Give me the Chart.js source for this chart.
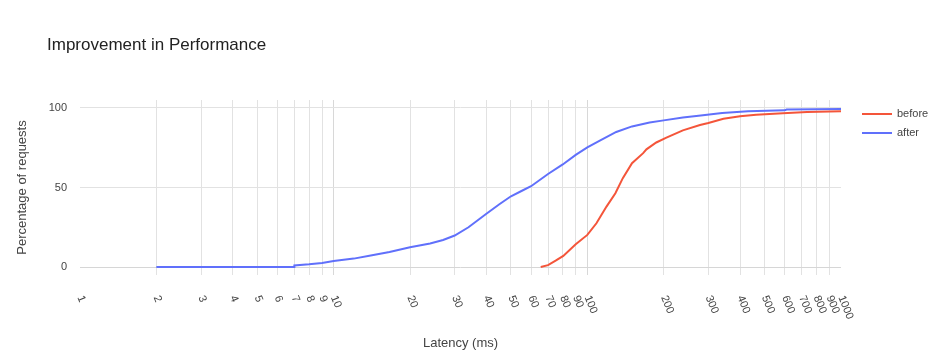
<!DOCTYPE html>
<html><head><meta charset="utf-8">
<script src="https://cdn.jsdelivr.net/npm/chart.js@4/dist/chart.umd.min.js"></script>
<style>html,body{margin:0;padding:0;background:#fff}#wrap{width:946px;height:360px;position:relative}</style>
</head><body><div id="wrap"><canvas id="c"></canvas></div>
<script>
const chartTitle = 'Improvement in Performance';
const xTitle = 'Latency (ms)';
const yTitle = 'Percentage of requests';
const seriesNames = ['before', 'after'];
const seriesColors = ['#f4553a', '#6070fb'];

const beforeLatency = [65.5, 70, 75, 80.4, 90, 100, 108.6, 119, 129, 138, 150, 166, 171, 187, 205, 238, 278, 300, 344, 400, 463, 590, 735, 1000];
const beforePct     = [0,    1.2, 4, 7,    14.3, 20.2, 27.5, 38, 46.4, 55.9, 65.3, 71.6, 74, 78.3, 81.3, 85.9, 89.3, 90.5, 93.2, 94.8, 95.8, 96.6, 97.5, 98.0];

const afterLatency = [2, 7, 7, 8, 9, 10, 12, 14, 16.6, 20, 24, 27, 30, 34, 40, 45, 50, 55, 60, 70, 80, 90, 100, 112, 130, 150, 176, 200, 238, 280, 340, 430, 600, 610, 1000];
const afterPct     = [0, 0, 1.0, 1.7, 2.5, 3.8, 5.3, 7.2, 9.4, 12.5, 14.8, 17, 19.8, 25, 33.5, 39.5, 44.5, 47.8, 50.8, 58.5, 64.5, 70.5, 75.2, 79.4, 84.9, 88.4, 90.8, 92.2, 94.0, 95.3, 96.9, 97.9, 98.5, 99.0, 99.3];

const xTickValues = [1, 2, 3, 4, 5, 6, 7, 8, 9, 10, 20, 30, 40, 50, 60, 70, 80, 90, 100, 200, 300, 400, 500, 600, 700, 800, 900, 1000];
const xTickLabels = ['1', '2', '3', '4', '5', '6', '7', '8', '9', '10', '20', '30', '40', '50', '60', '70', '80', '90', '100', '200', '300', '400', '500', '600', '700', '800', '900', '1000'];
const yTickValues = [0, 50, 100];

const FONT = '"Liberation Sans", Arial, Helvetica, sans-serif';

function toPoints(xs, ys) { return xs.map((x, i) => ({ x: x, y: ys[i] })); }

const decor = {
  id: 'decor',
  afterDraw(chart) {
    const ctx = chart.ctx;
    const xs = chart.scales.x;
    ctx.save();
    ctx.fillStyle = '#222';
    ctx.font = '17px ' + FONT;
    ctx.textAlign = 'left';
    ctx.textBaseline = 'middle';
    ctx.fillText(chartTitle, 47, 45);

    ctx.font = '11px ' + FONT;
    ctx.fillStyle = '#444';
    xTickValues.forEach((v, i) => {
      const px = xs.getPixelForValue(v);
      ctx.save();
      ctx.translate(px, 296);
      ctx.rotate(68 * Math.PI / 180);
      ctx.textAlign = 'left';
      ctx.textBaseline = 'middle';
      ctx.fillText(xTickLabels[i], 0, 0);
      ctx.restore();
    });

    chart.data.datasets.forEach((ds, i) => {
      const y = 114 + i * 19;
      ctx.strokeStyle = ds.borderColor;
      ctx.lineWidth = 2;
      ctx.beginPath();
      ctx.moveTo(862, y);
      ctx.lineTo(892, y);
      ctx.stroke();
      ctx.fillStyle = '#444';
      ctx.font = '11px ' + FONT;
      ctx.textAlign = 'left';
      ctx.textBaseline = 'middle';
      ctx.fillText(ds.label, 897, y);
    });
    ctx.restore();
  }
};

new Chart(document.getElementById('c'), {
  type: 'line',
  data: {
    datasets: [
      { label: seriesNames[0], data: toPoints(beforeLatency, beforePct), borderColor: seriesColors[0], backgroundColor: seriesColors[0], borderWidth: 2, pointRadius: 0, tension: 0, fill: false },
      { label: seriesNames[1], data: toPoints(afterLatency, afterPct), borderColor: seriesColors[1], backgroundColor: seriesColors[1], borderWidth: 2, pointRadius: 0, tension: 0, fill: false }
    ]
  },
  options: {
    responsive: true,
    maintainAspectRatio: false,
    animation: false,
    layout: { padding: { top: 100, right: 105, bottom: 0, left: 0 } },
    plugins: { legend: { display: false }, title: { display: false }, tooltip: { enabled: false } },
    scales: {
      x: {
        type: 'logarithmic',
        min: 1, max: 1000,
        afterBuildTicks: (s) => { s.ticks = xTickValues.map(v => ({ value: v })); },
        afterFit: (s) => { s.height = 85; },
        ticks: { display: false },
        border: { display: false },
        grid: {
          drawTicks: false,
          color: (c) => {
            const v = c.tick ? c.tick.value : null;
            if (v === 1 || v === 1000) return 'rgba(0,0,0,0)';
            return (v === 10 || v === 100) ? '#d8d8d8' : '#e2e2e2';
          }
        },
        title: { display: true, text: xTitle, color: '#444', font: { family: FONT, size: 13 }, padding: { top: 0, bottom: 9 } }
      },
      y: {
        type: 'linear',
        min: -5, max: 105,
        afterBuildTicks: (s) => { s.ticks = yTickValues.map(v => ({ value: v })); },
        afterFit: (s) => { s.width = 80; },
        ticks: { color: '#444', font: { family: FONT, size: 11 }, padding: 13 },
        border: { display: false },
        grid: { drawTicks: false, color: (c) => (c.tick && c.tick.value === 0) ? '#d6d6d6' : '#e2e2e2' },
        title: { display: true, text: yTitle, color: '#444', font: { family: FONT, size: 13 }, padding: { top: 15, bottom: 0 } }
      }
    }
  },
  plugins: [decor]
});
</script>
</body></html>
